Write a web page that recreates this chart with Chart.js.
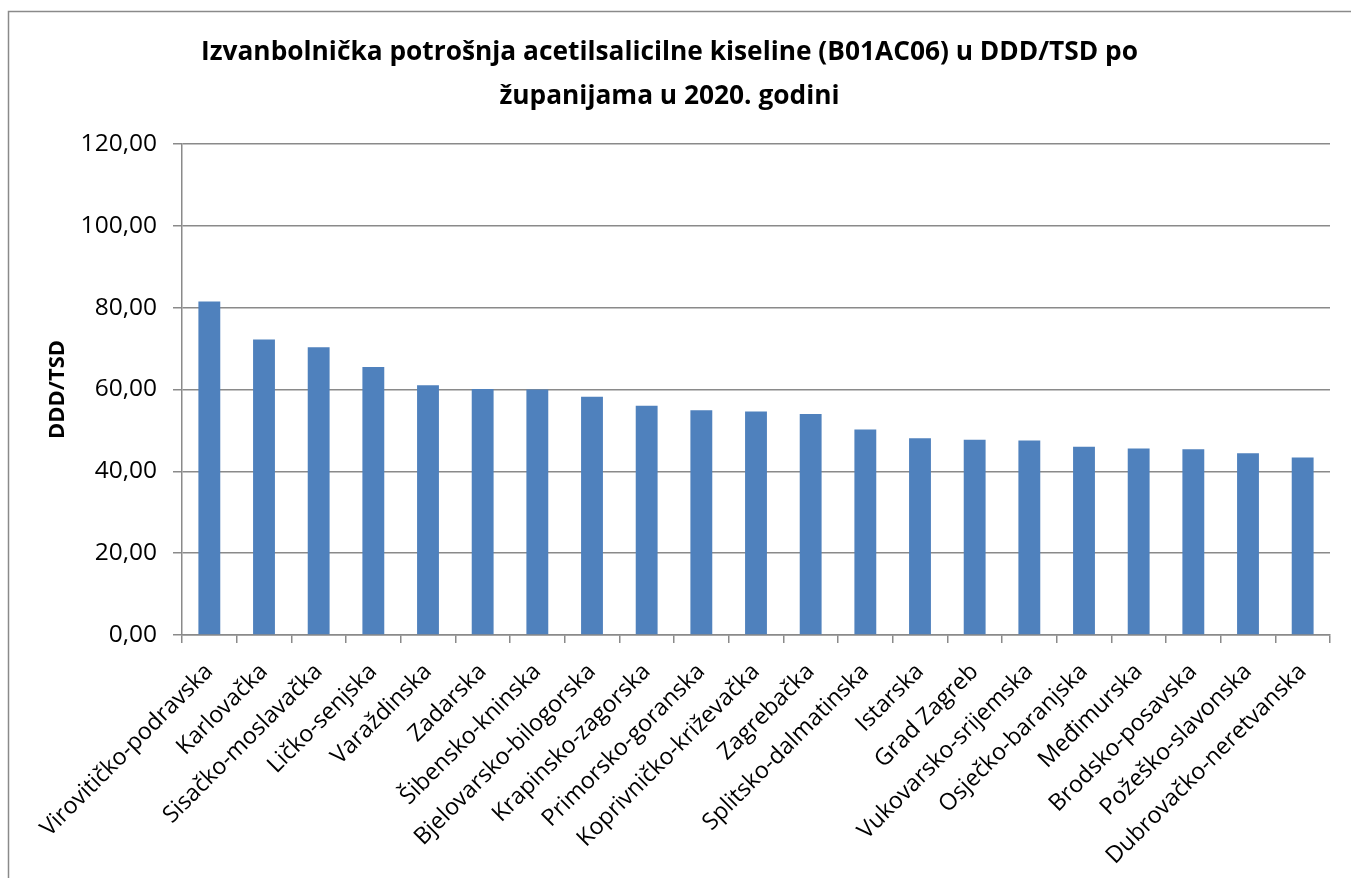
<!DOCTYPE html>
<html>
<head>
<meta charset="utf-8">
<script src="https://cdn.jsdelivr.net/npm/chart.js@4/dist/chart.umd.min.js"></script>
<style>
  html, body { margin: 0; padding: 0; background: #fff; }
  #wrap { width: 1351px; height: 878px; position: relative; }
</style>
</head>
<body>
<div id="wrap"><canvas id="chart"></canvas></div>
<script>
// counties, sorted by consumption
const counties = [
  'Virovitičko-podravska', 'Karlovačka', 'Sisačko-moslavačka', 'Ličko-senjska',
  'Varaždinska', 'Zadarska', 'Šibensko-kninska', 'Bjelovarsko-bilogorska',
  'Krapinsko-zagorska', 'Primorsko-goranska', 'Koprivničko-križevačka', 'Zagrebačka',
  'Splitsko-dalmatinska', 'Istarska', 'Grad Zagreb', 'Vukovarsko-srijemska',
  'Osječko-baranjska', 'Međimurska', 'Brodsko-posavska', 'Požeško-slavonska',
  'Dubrovačko-neretvanska'
];
const dddTsd = [
  81.5, 72.2, 70.3, 65.5, 61.0, 60.1, 60.0, 58.2, 56.0, 54.9, 54.6,
  54.0, 50.2, 48.1, 47.7, 47.5, 46.0, 45.6, 45.4, 44.4, 43.4
];
const titleLines = ['Izvanbolnička potrošnja acetilsalicilne kiseline (B01AC06) u DDD/TSD po', 'županijama u 2020. godini'];
const yAxisTitle = 'DDD/TSD';
const yMin = 0, yMax = 120, yStep = 20;

const FONT = "'Open Sans', 'DejaVu Sans', sans-serif";
const GRID = '#8a8a8a';

// top and left frame lines like the Excel chart box
const framePlugin = {
  id: 'frame',
  beforeDraw(chart) {
    const ctx = chart.ctx;
    ctx.save();
    ctx.strokeStyle = '#8a8a8a';
    ctx.lineWidth = 1.5;
    ctx.beginPath();
    ctx.moveTo(8.5, chart.height);
    ctx.lineTo(8.5, 11.5);
    ctx.lineTo(chart.width, 11.5);
    ctx.stroke();
    ctx.restore();
  }
};

const ctx = document.getElementById('chart').getContext('2d');
new Chart(ctx, {
  type: 'bar',
  data: {
    labels: counties,
    datasets: [{
      label: yAxisTitle,
      data: dddTsd,
      backgroundColor: '#4F81BD',
      borderWidth: 0,
      barPercentage: 0.4,
      categoryPercentage: 1.0
    }]
  },
  options: {
    responsive: true,
    maintainAspectRatio: false,
    animation: false,
    devicePixelRatio: 1,
    layout: {
      padding: { left: 9, right: 21, top: 0, bottom: 0 }
    },
    plugins: {
      legend: { display: false },
      tooltip: { enabled: false },
      title: {
        display: true,
        text: titleLines,
        color: '#000',
        font: { family: FONT, size: 26.3, weight: 'bold', lineHeight: 1.69 },
        padding: { top: 30, bottom: 25 }
      }
    },
    scales: {
      x: {
        afterFit: function(scale) { scale.height = 243; },
        grid: {
          offset: true,
          drawOnChartArea: false,
          drawTicks: true,
          tickLength: 8,
          color: GRID,
          lineWidth: 1.5
        },
        border: { color: GRID, width: 1.5 },
        ticks: {
          color: '#000',
          font: { family: FONT, size: 23.3 },
          minRotation: 45,
          maxRotation: 45,
          autoSkip: false,
          padding: 15
        }
      },
      y: {
        min: yMin,
        max: yMax,
        afterFit: function(scale) { scale.width = 173; },
        grid: {
          color: GRID,
          lineWidth: 1.5,
          drawTicks: true,
          tickLength: 9
        },
        border: { color: GRID, width: 1.5 },
        ticks: {
          stepSize: yStep,
          color: '#000',
          font: { family: FONT, size: 24.5 },
          padding: 16,
          callback: function(value) {
            return value.toFixed(2).replace('.', ',');
          }
        },
        title: {
          display: true,
          text: yAxisTitle,
          color: '#000',
          font: { family: FONT, size: 22, weight: 'bold' },
          padding: { top: 36, bottom: 0 }
        }
      }
    }
  },
  plugins: [framePlugin]
});
</script>
</body>
</html>
